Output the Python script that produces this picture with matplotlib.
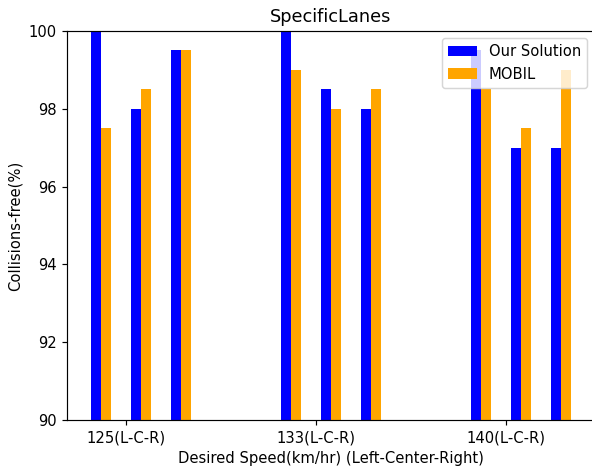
import matplotlib
matplotlib.use("Agg")
import matplotlib.pyplot as plt
import numpy as np

groups = ["125(L-C-R)", "133(L-C-R)", "140(L-C-R)"]
# values per group: [L, C, R]
our_solution = [[100.0, 98.0, 99.5],
                [100.0, 98.5, 98.0],
                [99.5, 97.0, 97.0]]
mobil = [[97.5, 98.5, 99.5],
         [99.0, 98.0, 98.5],
         [98.5, 97.5, 99.0]]

DPI = 106.3
fig = plt.figure(figsize=(592 / DPI, 468 / DPI), dpi=DPI)
ax = fig.add_axes([0.1137, 0.1026, 0.8905, 0.8312])

x = np.arange(len(groups))
width = 10 / 190
lane_offsets = np.array([-30, 10, 50]) / 190

for j, off in enumerate(lane_offsets):
    ax.bar(x + off, [g[j] for g in our_solution], width, color="blue",
           label="Our Solution" if j == 0 else None)
    ax.bar(x + off + width, [g[j] for g in mobil], width, color="orange",
           label="MOBIL" if j == 0 else None)

ax.set_ylim(90, 100)
ax.set_yticks([90, 92, 94, 96, 98, 100])
ax.set_xticks(x)
ax.set_xticklabels(groups)
ax.set_xlabel("Desired Speed(km/hr) (Left-Center-Right)")
ax.set_ylabel("Collisions-free(%)")
ax.set_title("SpecificLanes")
ax.legend(loc="upper right")

fig.savefig("out.png", dpi=DPI)
